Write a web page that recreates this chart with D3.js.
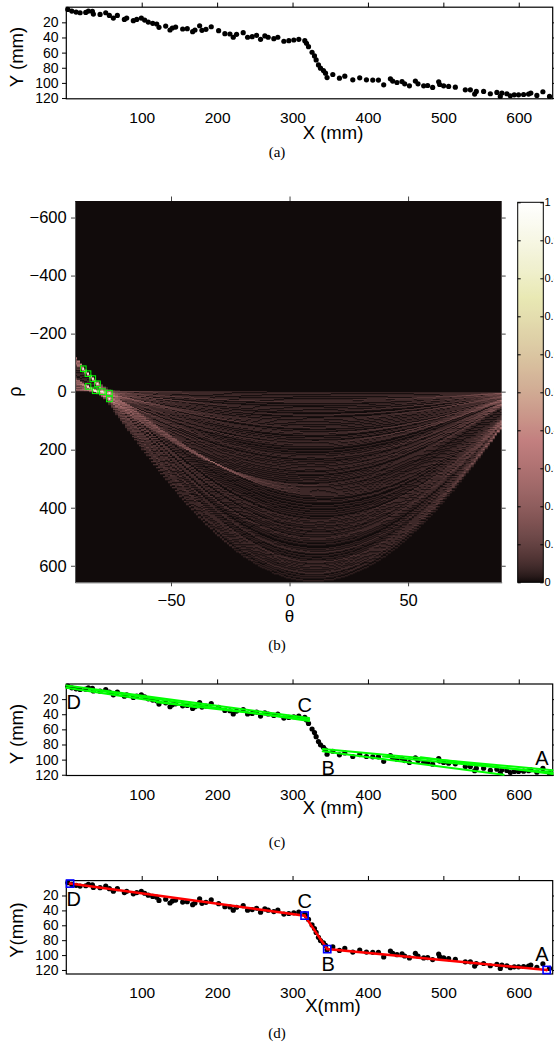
<!DOCTYPE html>
<html>
<head>
<meta charset="utf-8">
<script src="https://cdn.jsdelivr.net/npm/d3@7"></script>
<style>
  body { margin: 0; background: #fff; }
  svg { display: block; }
</style>
</head>
<body>
<svg id="fig" width="554" height="1050"></svg>
<script>
// ---- profile measurements (mm) ----
const pointX = [2.0, 7.3, 13.0, 18.3, 25.8, 29.3, 34.6, 35.9, 44.8, 52.3, 57.1, 62.4, 67.7, 77.0, 80.1, 88.9, 93.4, 99.5, 103.9, 108.7,
  114.6, 119.9, 122.9, 131.8, 137.5, 140.6, 145.0, 154.3, 160.4, 167.5, 170.6, 176.8, 179.9, 185.2, 192.2, 202.0, 210.3, 217.0, 221.4, 225.8,
  234.6, 240.4, 246.5, 252.3, 257.6, 263.3, 267.7, 275.2, 280.5, 288.5, 295.1, 301.7, 308.3, 316.3, 318.5, 321.2, 325.9, 329.1, 331.3, 334.4,
  337.1, 341.0, 343.7, 345.8, 353.4, 362.2, 369.3, 379.9, 389.1, 398.0, 406.4, 413.9, 420.9, 429.8, 432.8, 438.5, 445.2, 448.7, 455.0, 462.9,
  466.4, 473.9, 479.2, 485.8, 493.8, 495.1, 500.4, 507.0, 515.9, 529.1, 535.8, 541.5, 543.7, 553.4, 562.3, 571.0, 575.5, 577.6, 584.2, 588.7,
  594.0, 599.7, 606.4, 613.0, 616.0, 624.0, 632.0, 640.8];
const pointY = [2.9, 5.1, 6.4, 7.3, 6.9, 5.1, 5.6, 9.1, 9.5, 7.3, 10.8, 14.3, 10.8, 16.1, 14.3, 17.8, 16.1, 14.3, 17.0, 19.6,
  21.3, 22.2, 26.6, 24.9, 30.1, 27.5, 26.2, 28.8, 28.4, 32.3, 30.1, 24.5, 30.5, 29.2, 25.8, 31.0, 35.0, 35.4, 39.7, 35.8,
  33.7, 39.7, 38.9, 37.1, 42.4, 38.0, 39.7, 41.6, 39.7, 45.0, 44.2, 43.3, 42.4, 44.2, 47.6, 52.1, 59.5, 64.3, 69.6, 76.2,
  80.5, 83.7, 87.1, 92.9, 88.9, 93.7, 91.1, 95.9, 93.3, 95.9, 96.3, 96.3, 102.5, 94.6, 97.6, 99.5, 98.2, 101.2, 103.8, 97.6,
  101.2, 103.8, 103.4, 106.0, 98.6, 102.1, 103.8, 104.7, 105.6, 109.1, 109.1, 114.7, 111.3, 111.3, 114.3, 112.6, 117.9, 113.4, 114.3, 117.0,
  115.7, 115.7, 115.3, 114.7, 113.4, 116.6, 111.7, 117.9];

// ---- axis ticks ----
const xTicks = [100, 200, 300, 400, 500, 600];
const yTicks = [20, 40, 60, 80, 100, 120];
const thetaTicks = [-50, 0, 50];
const rhoTicks = [-600, -400, -200, 0, 200, 400, 600];
const cbarTicks = [0, 0.1, 0.2, 0.3, 0.4, 0.5, 0.6, 0.7, 0.8, 0.9, 1];

// ---- Hough peaks (theta in degrees, rho in mm) ----
const peakTheta = [-87, -85, -83, -81, -85, -82, -79, -76, -76];
const peakRho = [-79, -62, -45, -27, -18, -3, 0, 5, 25];

// ---- detected Hough segments (mm) ----
const segX0 = [0, 0, 30, 120, 340, 340, 420, 470];
const segY0 = [2, 5, 7, 24, 86, 89, 96, 97];
const segX1 = [322, 175, 322, 322, 645, 580, 645, 645];
const segY1 = [45, 31, 49, 47, 114, 120, 117, 119];

// ---- fitted break points ----
const cornerName = ["D", "C", "B", "A"];
const cornerX = [5, 316, 346, 637];
const cornerY = [4, 47, 92, 120];

const FONT = '"Liberation Sans", Arial, Helvetica, sans-serif';
const SERIF = '"Liberation Serif", "DejaVu Serif", serif';
const svg = d3.select("#fig");
svg.append("rect").attr("width", 554).attr("height", 1050).attr("fill", "#fff");

// MATLAB-style "pink" colormap
function pink(t) {
  t = Math.max(0.003, Math.min(1, t));
  const clamp = v => Math.max(0, Math.min(1, v));
  const rh = clamp(t / 0.375), gh = clamp((t - 0.375) / 0.375), bh = clamp((t - 0.75) / 0.25);
  const f = h => Math.round(255 * Math.sqrt((2 * t + h) / 3));
  return [f(rh), f(gh), f(bh)];
}

function styleAxis(sel, fs) {
  sel.select(".domain").remove();
  sel.selectAll("line").attr("stroke", "#000");
  sel.selectAll("text").attr("font-family", FONT).attr("font-size", fs).attr("fill", "#000");
}

const profileX = d3.scaleLinear().domain([0, 645]).range([66.3, 552.7]);

function profilePanel(top, bottom, yMax, xLab, yLab, xLabY, yLabY) {
  const x = profileX;
  const y = d3.scaleLinear().domain([0, yMax]).range([top, bottom]);
  const g = svg.append("g");
  g.append("g").selectAll("circle").data(pointX.map((d, i) => i)).join("circle")
    .attr("cx", i => x(pointX[i])).attr("cy", i => y(pointY[i])).attr("r", 2.6).attr("fill", "#000");
  const [x0, x1] = x.range();
  g.append("rect").attr("x", x0).attr("y", top).attr("width", x1 - x0).attr("height", bottom - top)
    .attr("fill", "none").attr("stroke", "#000").attr("stroke-width", 1.2);
  g.append("g").attr("transform", `translate(0,${top})`)
    .call(d3.axisTop(x).tickValues(xTicks).tickSize(4.6).tickFormat("")).call(styleAxis, 15.5);
  g.append("g").attr("transform", `translate(${x1},0)`)
    .call(d3.axisRight(y).tickValues(yTicks).tickSize(4.3).tickFormat("")).call(styleAxis, 15.5);
  g.append("g").attr("transform", `translate(${x0},0)`)
    .call(d3.axisLeft(y).tickValues(yTicks).tickSize(4.3).tickPadding(3.5)).call(styleAxis, 14);
  g.append("g").attr("transform", `translate(0,${bottom})`)
    .call(d3.axisBottom(x).tickValues(xTicks).tickSize(0).tickPadding(13)).call(styleAxis, 15.5);
  g.append("text").attr("x", 333).attr("y", xLabY).attr("text-anchor", "middle")
    .attr("font-family", FONT).attr("font-size", 18.5).text(xLab);
  g.append("text").attr("transform", `translate(23,${yLabY}) rotate(-90)`).attr("text-anchor", "middle")
    .attr("font-family", FONT).attr("font-size", 18.5).text(yLab);
  return { g, x, y };
}

function caption(txt, cy) {
  svg.append("text").attr("x", 277).attr("y", cy).attr("text-anchor", "middle")
    .attr("font-family", SERIF).attr("font-size", 15).text(txt);
}

// label offsets around the break points (px)
const cornerDX = [-3.6, -7, -5.6, -11.3];
const cornerDY = [22.3, -8, 21.7, -9.3];
function cornerLabels(p) {
  p.g.append("g").selectAll("text").data(cornerName.map((d, i) => i)).join("text")
    .attr("x", i => p.x(cornerX[i]) + cornerDX[i]).attr("y", i => p.y(cornerY[i]) + cornerDY[i])
    .attr("font-family", FONT).attr("font-size", 20).text(i => cornerName[i]);
}

// ---------- (a) raw profile ----------
profilePanel(7.2, 98.8, 121, "X (mm)", "Y (mm)", 138.5, 57);
caption("(a)", 157);

// ---------- (b) Hough accumulator ----------
{
  const L = 75, R = 501.7, T = 201, B = 582.3;
  const th = d3.scaleLinear().domain([-90.5, 89.5]).range([L, R]);
  const rh = d3.scaleLinear().domain([-657, 657]).range([T, B]);
  const pw = Math.round(R - L), ph = Math.round(B - T);
  const thetaBins = d3.range(-90, 90);
  const counts = thetaBins.map(() => new Float32Array(ph));
  thetaBins.forEach((t, k) => {
    const a = t * Math.PI / 180, c = Math.cos(a), s = Math.sin(a);
    for (let i = 0; i < pointX.length; i++) {
      const r = Math.round(pointX[i] * c + pointY[i] * s);
      const row = Math.floor(rh(r) - T);
      if (row >= 0 && row < ph) counts[k][row] += 1;
    }
  });
  const maxC = d3.max(counts, col => d3.max(col));
  const cv = document.createElement("canvas");
  cv.width = pw; cv.height = ph;
  const ctx = cv.getContext("2d");
  const img = ctx.createImageData(pw, ph);
  for (let i = 0; i < pw; i++) {
    const k = Math.max(0, Math.min(179, Math.round(th.invert(L + (i + 0.5) * (R - L) / pw)) + 90));
    for (let j = 0; j < ph; j++) {
      const [r, g, b] = pink(counts[k][j] / maxC);
      const o = 4 * (j * pw + i);
      img.data[o] = r; img.data[o + 1] = g; img.data[o + 2] = b; img.data[o + 3] = 255;
    }
  }
  ctx.putImageData(img, 0, 0);
  svg.append("image").attr("x", L).attr("y", T).attr("width", R - L).attr("height", B - T)
    .attr("preserveAspectRatio", "none").attr("href", cv.toDataURL());

  const gb = svg.append("g");
  const fmt = v => (v < 0 ? "\u2212" + Math.abs(v) : String(v));
  const axisStyle = (sel) => {
    sel.select(".domain").attr("stroke", "#555");
    sel.selectAll("line").attr("stroke", "#444");
    sel.selectAll("text").attr("font-family", FONT).attr("font-size", 16.5).attr("fill", "#000");
  };
  gb.append("g").attr("transform", `translate(${L},0)`)
    .call(d3.axisLeft(rh).tickValues(rhoTicks).tickSize(4).tickPadding(4.3).tickFormat(fmt).tickSizeOuter(0)).call(axisStyle);
  gb.append("g").attr("transform", `translate(0,${B})`)
    .call(d3.axisBottom(th).tickValues(thetaTicks).tickSize(4).tickPadding(7.5).tickFormat(fmt).tickSizeOuter(0)).call(axisStyle);
  gb.append("g").attr("transform", `translate(0,${T})`)
    .call(d3.axisTop(th).tickValues(thetaTicks).tickSize(4.5).tickFormat("").tickSizeOuter(0))
    .call(s => { s.select(".domain").remove(); s.selectAll("line").attr("stroke", "#444"); });
  gb.append("g").attr("transform", `translate(${R},0)`)
    .call(d3.axisRight(rh).tickValues(rhoTicks).tickSize(4).tickFormat("").tickSizeOuter(0))
    .call(s => { s.select(".domain").remove(); s.selectAll("line").attr("stroke", "#444"); });

  // peak markers
  const pk = gb.append("g");
  pk.selectAll("rect.box").data(peakTheta.map((d, i) => i)).join("rect").attr("class", "box")
    .attr("x", i => th(peakTheta[i]) - 2.8).attr("y", i => rh(peakRho[i]) - 2.8)
    .attr("width", 5.6).attr("height", 5.6).attr("fill", "none").attr("stroke", "#00ff00").attr("stroke-width", 1);
  pk.selectAll("rect.dot").data(peakTheta.map((d, i) => i)).join("rect").attr("class", "dot")
    .attr("x", i => th(peakTheta[i]) - 0.9).attr("y", i => rh(peakRho[i]) - 0.9)
    .attr("width", 1.8).attr("height", 1.8).attr("fill", "#f6ece4");

  gb.append("text").attr("x", th(0)).attr("y", 622).attr("text-anchor", "middle")
    .attr("font-family", FONT).attr("font-size", 17).text("θ");
  gb.append("text").attr("transform", `translate(21,${rh(0)}) rotate(-90)`).attr("text-anchor", "middle")
    .attr("font-family", FONT).attr("font-size", 18).text("ρ");

  // colour bar
  const cT = 202.3, cB = 582.3, cL = 517.7, cR = 543.3;
  const grad = svg.append("defs").append("linearGradient").attr("id", "pinkGrad")
    .attr("x1", 0).attr("y1", 1).attr("x2", 0).attr("y2", 0);
  d3.range(0, 1.0001, 1 / 64).forEach(t => {
    const [r, g, b] = pink(t);
    grad.append("stop").attr("offset", t).attr("stop-color", `rgb(${r},${g},${b})`);
  });
  const cs = d3.scaleLinear().domain([0, 1]).range([cB, cT]);
  gb.append("rect").attr("x", cL).attr("y", cT).attr("width", cR - cL).attr("height", cB - cT)
    .attr("fill", "url(#pinkGrad)").attr("stroke", "#000").attr("stroke-width", 1);
  gb.append("g").attr("transform", `translate(${cL},0)`)
    .call(d3.axisRight(cs).tickValues(cbarTicks).tickSize(3).tickFormat(""))
    .call(s => { s.select(".domain").remove(); s.selectAll("line").attr("stroke", "#000"); });
  gb.append("g").attr("transform", `translate(${cR},0)`)
    .call(d3.axisLeft(cs).tickValues(cbarTicks).tickSize(3).tickFormat(""))
    .call(s => { s.select(".domain").remove(); s.selectAll("line").attr("stroke", "#000"); });
  gb.append("g").selectAll("text").data(cbarTicks).join("text")
    .attr("x", cR + 1.2).attr("y", d => cs(d)).attr("dy", "0.35em")
    .attr("font-family", FONT).attr("font-size", 11).text(d => String(+d.toFixed(1)));
}
caption("(b)", 650);

// ---------- (c) Hough segments ----------
{
  const p = profilePanel(684, 775.5, 121, "X (mm)", "Y (mm)", 814, 734);
  p.g.append("g").selectAll("line").data(segX0.map((d, i) => i)).join("line")
    .attr("x1", i => p.x(segX0[i])).attr("y1", i => p.y(segY0[i]))
    .attr("x2", i => p.x(segX1[i])).attr("y2", i => p.y(segY1[i]))
    .attr("stroke", "#00ff00").attr("stroke-width", 2).attr("stroke-linecap", "round");
  cornerLabels(p);
}
caption("(c)", 846.5);

// ---------- (d) fitted polyline ----------
{
  const p = profilePanel(880.6, 974, 125.4, "X(mm)", "Y(mm)", 1012, 930);
  const line = d3.line().x(i => p.x(cornerX[i])).y(i => p.y(cornerY[i]));
  const idx = cornerX.map((d, i) => i);
  p.g.append("path").attr("d", line(idx)).attr("fill", "none").attr("stroke", "#ff0000").attr("stroke-width", 2.6);
  p.g.append("g").selectAll("rect").data(idx).join("rect")
    .attr("x", i => p.x(cornerX[i]) - 3.6).attr("y", i => p.y(cornerY[i]) - 3.6)
    .attr("width", 7.2).attr("height", 7.2).attr("fill", "none").attr("stroke", "#0000ff").attr("stroke-width", 1.6);
  p.g.append("g").selectAll("circle").data(idx).join("circle")
    .attr("cx", i => p.x(cornerX[i])).attr("cy", i => p.y(cornerY[i])).attr("r", 1.4).attr("fill", "#ff0000");
  cornerLabels(p);
}
caption("(d)", 1038);
</script>
</body>
</html>
